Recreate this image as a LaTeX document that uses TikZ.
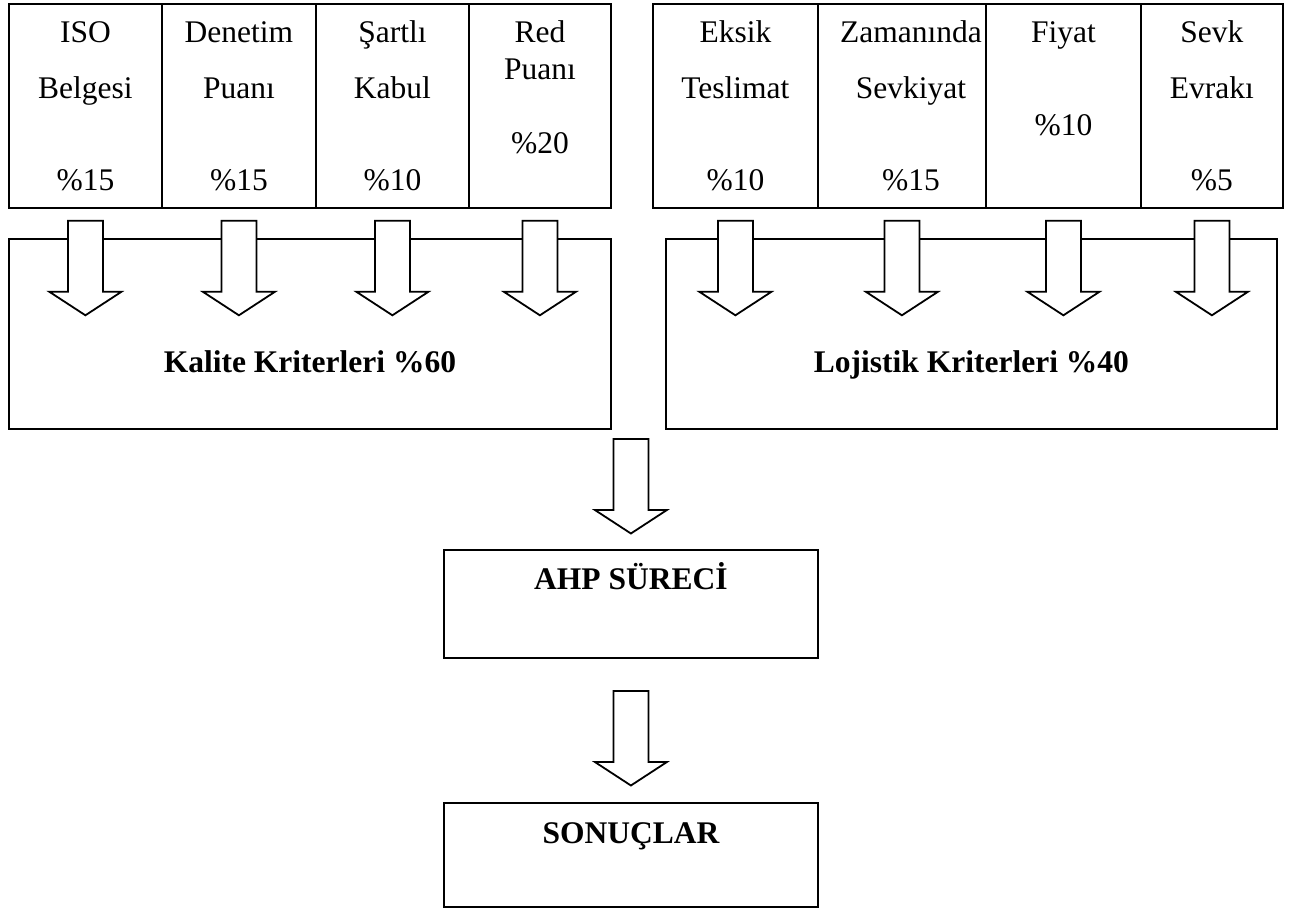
\documentclass[tikz,border=0pt]{standalone}
\usepackage{fontspec}
\setmainfont{Liberation Serif}
\usetikzlibrary{calc}

\tikzset{
  cell/.style={draw, line width=1.8pt, inner sep=0pt, anchor=north west},
  txt/.style={anchor=base, inner sep=0pt, font=\fontsize{31.5}{36}\selectfont},
  btxt/.style={txt, font=\fontsize{31.5}{36}\selectfont\bfseries},
  barrow/.style={draw, fill=white, line width=1.8pt, line join=miter}
}

% hollow block arrow pointing down, starting at the top centre #1
\newcommand{\blockdown}[1]{%
  \draw[barrow] (#1) ++(-17.5,0) -- ++(0,71) -- ++(-18.5,0) -- ++(36,23.5)
    -- ++(36,-23.5) -- ++(-18.5,0) -- ++(0,-71) -- cycle;}

\begin{document}
\begin{tikzpicture}[x=1pt,y=-1pt]
\useasboundingbox (0,0) rectangle (1297,909);

% quality criteria table
\node[cell, minimum width=153pt, minimum height=204pt] (c1) at (8,3) {};
\node[cell, minimum width=154pt, minimum height=204pt] (c2) at (161,3) {};
\node[cell, minimum width=153pt, minimum height=204pt] (c3) at (315,3) {};
\node[cell, minimum width=142pt, minimum height=204pt] (c4) at (468,3) {};

% logistics criteria table
\node[cell, minimum width=165pt, minimum height=204pt] (d1) at (652,3) {};
\node[cell, minimum width=168pt, minimum height=204pt] (d2) at (817,3) {};
\node[cell, minimum width=155pt, minimum height=204pt] (d3) at (985,3) {};
\node[cell, minimum width=142pt, minimum height=204pt] (d4) at (1140,3) {};

% cell texts
\node[txt] at ($(c1.north)+(0,40)$) {ISO};
\node[txt] at ($(c1.north)+(0,96)$) {Belgesi};
\node[txt] at ($(c1.north)+(0,188)$) {\%15};
\node[txt] at ($(c2.north)+(0,40)$) {Denetim};
\node[txt] at ($(c2.north)+(0,96)$) {Puanı};
\node[txt] at ($(c2.north)+(0,188)$) {\%15};
\node[txt] at ($(c3.north)+(0,40)$) {Şartlı};
\node[txt] at ($(c3.north)+(0,96)$) {Kabul};
\node[txt] at ($(c3.north)+(0,188)$) {\%10};
\node[txt] at ($(c4.north)+(0,40)$) {Red};
\node[txt] at ($(c4.north)+(0,77)$) {Puanı};
\node[txt] at ($(c4.north)+(0,151)$) {\%20};

\node[txt] at ($(d1.north)+(0,40)$) {Eksik};
\node[txt] at ($(d1.north)+(0,96)$) {Teslimat};
\node[txt] at ($(d1.north)+(0,188)$) {\%10};
\node[txt] at ($(d2.north)+(9,40)$) {Zamanında};
\node[txt] at ($(d2.north)+(9,96)$) {Sevkiyat};
\node[txt] at ($(d2.north)+(9,188)$) {\%15};
\node[txt] at ($(d3.north)+(0,40)$) {Fiyat};
\node[txt] at ($(d3.north)+(0,133)$) {\%10};
\node[txt] at ($(d4.north)+(0,40)$) {Sevk};
\node[txt] at ($(d4.north)+(0,96)$) {Evrakı};
\node[txt] at ($(d4.north)+(0,188)$) {\%5};

% group boxes
\node[cell, minimum width=602pt, minimum height=190pt] (kal) at (8,238) {};
\node[cell, minimum width=611pt, minimum height=190pt] (loj) at (665,238) {};
\node[btxt] at ($(kal.center)+(0,39)$) {Kalite Kriterleri \%60};
\node[btxt] at ($(loj.center)+(0,39)$) {Lojistik Kriterleri \%40};

% process boxes
\node[cell, minimum width=374pt, minimum height=108pt] (ahp) at (443,549) {};
\node[cell, minimum width=374pt, minimum height=104pt] (son) at (443,802) {};
\node[btxt] at ($(ahp.north)+(0,40)$) {AHP SÜRECİ};
\node[btxt] at ($(son.north)+(0,41)$) {SONUÇLAR};

% arrows from criteria into group boxes
\foreach \c in {c1,c2,c3,c4,d1,d2,d3,d4}{%
  \coordinate (top) at ($(\c.south)+(0,12)$);
  \blockdown{top}
}

% arrows down the process chain
\coordinate (m1) at ($(ahp.north)+(0,-110)$);
\coordinate (m2) at ($(son.north)+(0,-111)$);
\blockdown{m1}
\blockdown{m2}
\end{tikzpicture}
\end{document}
